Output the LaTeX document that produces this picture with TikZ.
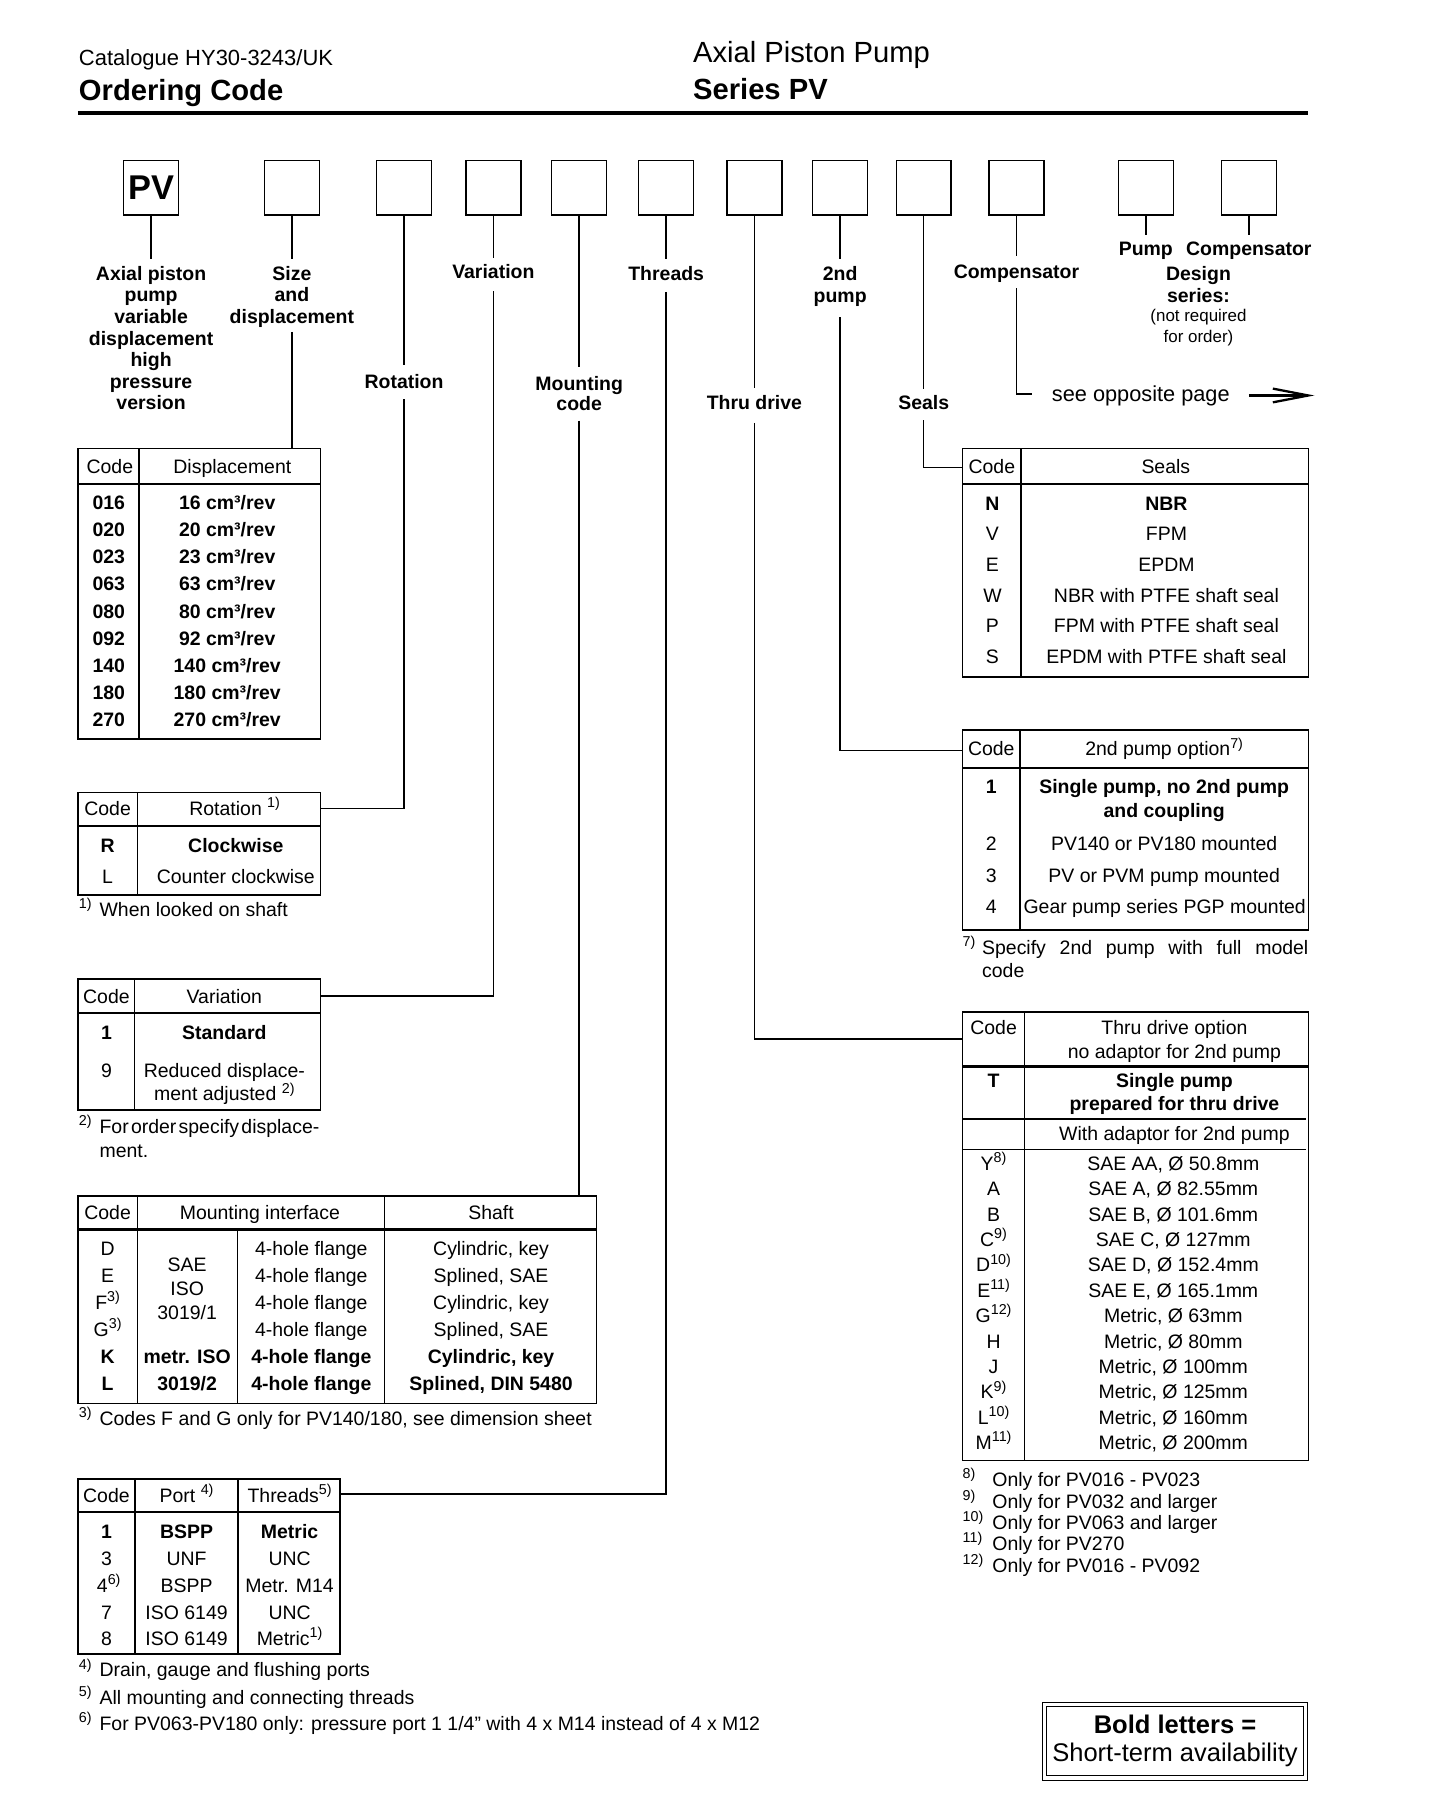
\documentclass[tikz,border=0pt]{standalone}
\usepackage{fontspec}
\setmainfont{Liberation Sans}
\newcommand\sups[1]{\raisebox{0.4em}{\fontsize{12.5}{13}\selectfont #1}}
\tikzset{
 tx/.style={font=\fontsize{17}{20}\selectfont, anchor=base},
 txb/.style={font=\fontsize{17}{20}\selectfont\bfseries, anchor=base},
 txl/.style={font=\fontsize{17}{20}\selectfont, anchor=base west},
 lab/.style={font=\fontsize{17}{20}\selectfont\bfseries, anchor=base},
 codebox/.style={draw, line width=1.3pt, minimum width=48pt, minimum height=48pt, anchor=north, font=\fontsize{30}{32}\selectfont\bfseries},
 tbl/.style={draw, line width=1.3pt, anchor=north west},
 hsep/.style={line width=2pt},
 vsep/.style={line width=1.3pt},
 conn/.style={line width=1.3pt},
}
\begin{document}
\begin{tikzpicture}[x=1pt,y=-1pt, every node/.style={inner sep=0pt,outer sep=0pt}]
\useasboundingbox[fill=white] (0,0) rectangle (1265,1569.9);
% header
\node[anchor=base west, font=\fontsize{19.2}{22}\selectfont] (cat) at (69,57) {Catalogue HY30-3243/UK};
\node[anchor=base west, font=\fontsize{25.5}{28}\selectfont\bfseries] (oc) at (69,87.5) {Ordering Code};
\node[anchor=base west, font=\fontsize{25.5}{28}\selectfont] (app) at (605.5,55) {Axial Piston Pump};
\node[anchor=base west, font=\fontsize{25.5}{28}\selectfont\bfseries] (spv) at (605.5,86.5) {Series PV};
\draw[line width=3.5pt] (68,98.5) -- (1143,98.5);
% code boxes
\node[codebox] (b1) at (132,140) {PV};
\foreach \n/\x in {2/255,3/353,4/431,5/506,6/582,7/659,8/734,9/807,10/888,11/1001,12/1091}
  \node[codebox] (b\n) at (\x,140) {};
% labels
\node[lab] (l1) at (132,245) {Axial piston};
\node[lab] at (132,263.8) {pump};
\node[lab] at (132,282.7) {variable};
\node[lab] at (132,301.5) {displacement};
\node[lab] at (132,320.3) {high};
\node[lab] at (132,339.2) {pressure};
\node[lab] at (132,358) {version};
\node[lab] (l2) at (255,245) {Size};
\node[lab] at (255,263.8) {and};
\node[lab] at (255,282.7) {displacement};
\node[lab] (l3) at (353,339) {Rotation};
\node[lab] (l4) at (431,243) {Variation};
\node[lab] (l5) at (506,341) {Mounting};
\node[lab] at (506,359) {code};
\node[lab] (l6) at (582,245) {Threads};
\node[lab] (l7) at (659,358) {Thru drive};
\node[lab] (l8) at (734,245) {2nd};
\node[lab] at (734,264) {pump};
\node[lab] (l9) at (807,358) {Seals};
\node[lab] (l10) at (888,243) {Compensator};
\node[lab] (l11) at (1001,223) {Pump};
\node[lab] (l12) at (1091,223) {Compensator};
\node[lab] (ld) at (1047,245) {Design};
\node[lab] at (1047,264) {series:};
\node[anchor=base, font=\fontsize{14.8}{17}\selectfont] at (1047,281.3) {(not required};
\node[anchor=base, font=\fontsize{14.8}{17}\selectfont] at (1047,299) {for order)};
\node[anchor=base west, font=\fontsize{19}{22}\selectfont] (sop) at (919,350.5) {see opposite page};
% arrow
\coordinate (ar1) at (1091,345.5);
\coordinate (ar2) at (1143,345.5);
\draw[line width=2.5pt] (ar1) -- (ar2);
\draw[line width=2pt, line join=miter] (1112,339.5) -- (ar2) -- (1112,351.5);
% tables
\node[tbl, minimum width=212pt, minimum height=253.5pt] (tDisp) at (68,392) {};
\node[tbl, minimum width=212pt, minimum height=89.5pt] (tRot) at (68,692.5) {};
\node[tbl, minimum width=212pt, minimum height=114.4pt] (tVar) at (68,855.3) {};
\node[tbl, minimum width=453pt, minimum height=181.2pt] (tMnt) at (68,1045) {};
\node[tbl, minimum width=229pt, minimum height=152.8pt] (tThr) at (68,1292) {};
\node[tbl, minimum width=302pt, minimum height=199.3pt] (tSeal) at (841,392) {};
\node[tbl, minimum width=302pt, minimum height=174.7pt] (tSec) at (841,637.8) {};
\node[tbl, minimum width=302pt, minimum height=392pt] (tThru) at (841,884) {};
% connectors
\coordinate (c1) at (132,226);
\draw[conn] (b1.south) -- (c1);
\coordinate (c2a) at (255,226); \coordinate (c2b) at (255,290);
\draw[conn] (b2.south) -- (c2a);
\draw[conn] (c2b) -- (c2b |- tDisp.north);
\coordinate (c3a) at (353,319); \coordinate (c3b) at (353,349); \coordinate (c3c) at (353,706.5);
\draw[conn] (b3.south) -- (c3a);
\draw[conn] (c3b) -- (c3c) -- (c3c -| tRot.east);
\coordinate (c4a) at (431,225.5); \coordinate (c4b) at (431,254.5); \coordinate (c4c) at (431,870);
\draw[conn] (b4.south) -- (c4a);
\draw[conn] (c4b) -- (c4c) -- (c4c -| tVar.east);
\coordinate (c5a) at (506,321); \coordinate (c5b) at (506,367.5);
\draw[conn] (b5.south) -- (c5a);
\draw[conn] (c5b) -- (c5b |- tMnt.north);
\coordinate (c6a) at (582,226); \coordinate (c6b) at (582,255); \coordinate (c6c) at (582,1305);
\draw[conn] (b6.south) -- (c6a);
\draw[conn] (c6b) -- (c6c) -- (c6c -| tThr.east);
\coordinate (c7a) at (659,339); \coordinate (c7b) at (659,369.5); \coordinate (c7c) at (659,907.5);
\draw[conn] (b7.south) -- (c7a);
\draw[conn] (c7b) -- (c7c) -- (c7c -| tThru.west);
\coordinate (c8a) at (734,226); \coordinate (c8b) at (734,277); \coordinate (c8c) at (734,655.5);
\draw[conn] (b8.south) -- (c8a);
\draw[conn] (c8b) -- (c8c) -- (c8c -| tSec.west);
\coordinate (c9a) at (807,340); \coordinate (c9b) at (807,367); \coordinate (c9c) at (807,408.5);
\draw[conn] (b9.south) -- (c9a);
\draw[conn] (c9b) -- (c9c) -- (c9c -| tSeal.west);
\coordinate (c10a) at (888,224); \coordinate (c10b) at (888,252); \coordinate (c10c) at (888,344.4); \coordinate (c10d) at (902,344.4);
\draw[conn] (b10.south) -- (c10a);
\draw[conn] (c10b) -- (c10c) -- (c10d);
\coordinate (c11) at (1001,205); \coordinate (c12) at (1091,205);
\draw[conn] (b11.south) -- (c11);
\draw[conn] (b12.south) -- (c12);
% ---- Displacement table
\draw[hsep] (68,423) -- (280,423);
\draw[vsep] (121.5,392) -- (121.5,645.5);
\node[tx] at (96,413.5) {Code};
\node[tx] at (203,413.5) {Displacement};
\foreach \c/\v [count=\i from 0] in {016/16,020/20,023/23,063/63,080/80,092/92,140/140,180/180,270/270} {
  \node[txb] at (95,445.5+23.6*\i) {\c};
  \node[txb] at (198.5,445.5+23.6*\i) {\v\ cm³/rev};
}
% ---- Rotation table
\draw[hsep] (68,721.5) -- (280,721.5);
\draw[vsep] (120,692.5) -- (120,782);
\node[tx] at (94,712.5) {Code};
\node[tx] at (205,712.5) {Rotation \sups{1)}};
\node[txb] at (94,744.6) {R};
\node[txb] at (206,744.6) {Clockwise};
\node[tx] at (94,771.6) {L};
\node[tx] at (206,771.6) {Counter clockwise};
\node[txl] at (69,800.8) {\makebox[18pt][l]{\sups{1)}}When looked on shaft};
% ---- Variation table
\draw[hsep] (68,885) -- (280,885);
\draw[vsep] (117.5,855.3) -- (117.5,969.7);
\node[tx] at (93,876.5) {Code};
\node[tx] at (196,876.5) {Variation};
\node[txb] at (93,908.5) {1};
\node[txb] at (196,908.5) {Standard};
\node[tx] at (93,941) {9};
\node[tx] at (196,941) {Reduced displace-};
\node[tx] at (196,961.7) {ment adjusted \sups{2)}};
\node[txl] at (69,990) {\makebox[18pt][l]{\sups{2)}}\hbox to 192pt{For\hfil order\hfil specify\hfil displace-}};
\node[txl] at (87,1011) {ment.};
% ---- Mounting table
\draw[hsep] (68,1074.2) -- (521,1074.2);
\draw[vsep] (120,1045) -- (120,1226.2);
\draw[vsep] (207.5,1074.2) -- (207.5,1226.2);
\draw[vsep] (336,1045) -- (336,1226.2);
\node[tx] at (94,1065.7) {Code};
\node[tx] at (227,1065.7) {Mounting interface};
\node[tx] at (429,1065.7) {Shaft};
\node[tx] at (94,1097) {D};
\node[tx] at (94,1120.6) {E};
\node[tx] at (94,1144.2) {F\sups{3)}};
\node[tx] at (94,1167.8) {G\sups{3)}};
\node[txb] at (94,1191.4) {K};
\node[txb] at (94,1215) {L};
\node[tx] at (163.5,1110.8) {SAE};
\node[tx] at (163.5,1132) {ISO};
\node[tx] at (163.5,1152.5) {3019/1};
\node[txb] at (163.5,1191.4) {metr. ISO};
\node[txb] at (163.5,1215) {3019/2};
\node[tx] at (272,1097) {4-hole flange};
\node[tx] at (272,1120.6) {4-hole flange};
\node[tx] at (272,1144.2) {4-hole flange};
\node[tx] at (272,1167.8) {4-hole flange};
\node[txb] at (272,1191.4) {4-hole flange};
\node[txb] at (272,1215) {4-hole flange};
\node[tx] at (429,1097) {Cylindric, key};
\node[tx] at (429,1120.6) {Splined, SAE};
\node[tx] at (429,1144.2) {Cylindric, key};
\node[tx] at (429,1167.8) {Splined, SAE};
\node[txb] at (429,1191.4) {Cylindric, key};
\node[txb] at (429,1215) {Splined, DIN 5480};
\node[txl] at (69,1245) {\makebox[18pt][l]{\sups{3)}}Codes F and G only for PV140/180, see dimension sheet};
% ---- Threads table
\draw[hsep] (68,1321) -- (297,1321);
\draw[vsep] (118,1292) -- (118,1444.8);
\draw[vsep] (208,1292) -- (208,1444.8);
\node[tx] at (93,1312.5) {Code};
\node[tx] at (163,1312.5) {Port \sups{4)}};
\node[tx] at (253,1312.5) {Threads\sups{5)}};
\node[txb] at (93,1344.3) {1};
\node[txb] at (163,1344.3) {BSPP};
\node[txb] at (253,1344.3) {Metric};
\node[tx] at (93,1367.8) {3};
\node[tx] at (163,1367.8) {UNF};
\node[tx] at (253,1367.8) {UNC};
\node[tx] at (95,1391) {4\sups{6)}};
\node[tx] at (163,1391) {BSPP};
\node[tx] at (253,1391) {Metr. M14};
\node[tx] at (93,1414.4) {7};
\node[tx] at (163,1414.4) {ISO 6149};
\node[tx] at (253,1414.4) {UNC};
\node[tx] at (93,1437.4) {8};
\node[tx] at (163,1437.4) {ISO 6149};
\node[tx] at (253,1437.4) {Metric\sups{1)}};
\node[txl] at (69,1465) {\makebox[18pt][l]{\sups{4)}}Drain, gauge and flushing ports};
\node[txl] at (69,1488.7) {\makebox[18pt][l]{\sups{5)}}All mounting and connecting threads};
\node[txl] at (69,1512) {\makebox[18pt][l]{\sups{6)}}For PV063-PV180 only: pressure port 1 1/4” with 4 x M14 instead of 4 x M12};
% ---- Seals table
\draw[hsep] (841,422.7) -- (1143,422.7);
\draw[vsep] (892,392) -- (892,591.3);
\node[tx] at (866.5,413.6) {Code};
\node[tx] at (1018.5,413.6) {Seals};
\node[txb] at (867,445.6) {N};
\node[txb] at (1019,445.6) {NBR};
\foreach \c/\v [count=\i from 1] in {V/FPM,E/EPDM,W/NBR with PTFE shaft seal,P/FPM with PTFE shaft seal,S/EPDM with PTFE shaft seal} {
  \node[tx] at (867,445.6+26.8*\i) {\c};
  \node[tx] at (1019,445.6+26.8*\i) {\v};
}
% ---- 2nd pump table
\draw[hsep] (841,671) -- (1143,671);
\draw[vsep] (891,637.8) -- (891,812.5);
\node[tx] at (866,660.4) {Code};
\node[tx] at (1017,660.4) {2nd pump option\sups{7)}};
\node[txb] at (866,693.6) {1};
\node[txb] at (1017,693.6) {Single pump, no 2nd pump};
\node[txb] at (1017,714) {and coupling};
\node[tx] at (866,743.4) {2};
\node[tx] at (1017,743.4) {PV140 or PV180 mounted};
\node[tx] at (866,770.8) {3};
\node[tx] at (1017,770.8) {PV or PVM pump mounted};
\node[tx] at (866,797.8) {4};
\node[tx] at (1017.5,797.8) {Gear pump series PGP mounted};
\node[txl] at (841,833.5) {\makebox[17pt][l]{\sups{7)}}\hbox to 285pt{Specify\hfil 2nd\hfil pump\hfil with\hfil full\hfil model}};
\node[txl] at (858,854) {code};
% ---- Thru drive table
\draw[hsep] (841,931.8) -- (1143,931.8);
\draw[vsep] (841,977.4) -- (1141,977.4);
\draw[vsep] (841,1004.1) -- (1141,1004.1);
\draw[vsep] (895,884) -- (895,1276);
\node[tx] at (868,903.7) {Code};
\node[tx] at (1026,903.7) {Thru drive option};
\node[tx] at (1026,924.3) {no adaptor for 2nd pump};
\node[txb] at (868,949.7) {T};
\node[txb] at (1026,949.7) {Single pump};
\node[txb] at (1026,970.3) {prepared for thru drive};
\node[tx] at (1026,996.6) {With adaptor for 2nd pump};
\foreach \c/\v [count=\i from 0] in {
  Y\sups{8)}/{SAE AA, Ø 50.8mm},
  A/{SAE A, Ø 82.55mm},
  B/{SAE B, Ø 101.6mm},
  C\sups{9)}/{SAE C, Ø 127mm},
  D\sups{10)}/{SAE D, Ø 152.4mm},
  E\sups{11)}/{SAE E, Ø 165.1mm},
  G\sups{12)}/{Metric, Ø 63mm},
  H/{Metric, Ø 80mm},
  J/{Metric, Ø 100mm},
  K\sups{9)}/{Metric, Ø 125mm},
  L\sups{10)}/{Metric, Ø 160mm},
  M\sups{11)}/{Metric, Ø 200mm}} {
  \node[tx] at (868,1022.4+22.18*\i) {\c};
  \node[tx] at (1025,1022.4+22.18*\i) {\v};
}
\node[txl] at (841,1298.6) {\makebox[26pt][l]{\sups{8)}}Only for PV016 - PV023};
\node[txl] at (841,1317.5) {\makebox[26pt][l]{\sups{9)}}Only for PV032 and larger};
\node[txl] at (841,1335.8) {\makebox[26pt][l]{\sups{10)}}Only for PV063 and larger};
\node[txl] at (841,1354.5) {\makebox[26pt][l]{\sups{11)}}Only for PV270};
\node[txl] at (841,1373.4) {\makebox[26pt][l]{\sups{12)}}Only for PV016 - PV092};
% ---- legend
\node[draw, line width=1pt, minimum width=231.5pt, minimum height=67.6pt, anchor=north west] (leg) at (910.6,1487.6) {};
\node[draw, line width=1pt, minimum width=224.8pt, minimum height=60pt, anchor=north west] (legi) at (914.1,1491.1) {};
\node[anchor=base, font=\fontsize{22.3}{26}\selectfont\bfseries] at (1026.5,1514) {Bold letters =};
\node[anchor=base, font=\fontsize{22.3}{26}\selectfont] at (1026.5,1539) {Short-term availability};
\end{tikzpicture}
\end{document}
